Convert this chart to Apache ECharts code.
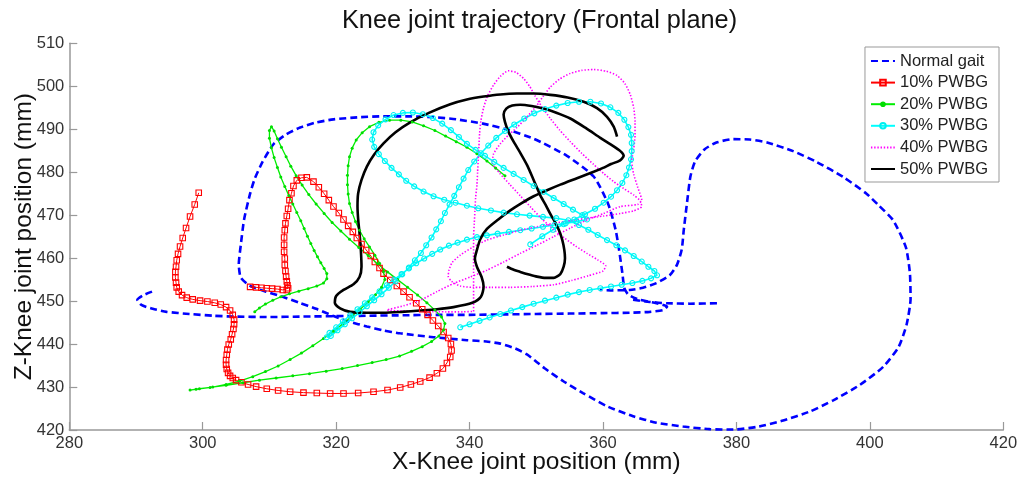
<!DOCTYPE html>
<html>
<head>
<meta charset="utf-8">
<script src="https://cdn.jsdelivr.net/npm/echarts@6/dist/echarts.min.js"></script>
<style>
html,body{margin:0;padding:0;background:#fff;}
#chart{width:1021px;height:479px;}
</style>
</head>
<body>
<div id="chart"></div>
<script>
// ---- axis ticks ----
var xTicks = [280, 300, 320, 340, 360, 380, 400, 420];
var yTicks = [420, 430, 440, 450, 460, 470, 480, 490, 500, 510];

// ---- series names ----
var seriesNames = ['Normal gait', '10% PWBG', '20% PWBG', '30% PWBG', '40% PWBG', '50% PWBG'];

// ---- Normal gait (two visible pieces) ----
var normalGaitMain = [
[292.4,452.2],[291.0,451.3],[290.2,450.3],[290.8,449.1],[292.5,448.2],[294.6,447.5],[298,447.0],[301.5,446.6],[304.6,446.4],[310,446.3],[315,446.4],[320,446.5],[325,446.6],[330,446.7],[335,446.8],[340,446.8],[345,446.9],[350,447.0],[355,447.1],[360,447.2],[364,447.3],[367,447.5],[369,447.9],[369.6,448.7],[368,449.5],[365.5,450.3],[363.8,451.5],[363.2,453],[362.9,456.5],[362.4,462],[361.9,466.5],[360.8,472.5],[358.6,479],[354.6,483.8],[349.6,487.8],[345.5,490],[342,491.3],[338,492.3],[334.6,492.8],[331,493],[327.1,493],[323.5,492.8],[319.6,492.3],[316.8,491.5],[314.6,490.4],[312.5,488.8],[310.6,486.5],[309,482.5],[307.8,478.5],[307.1,475],[306.2,469],[305.7,463],[305.4,458.5],[305.7,455.5],[307,453.6],[309.5,452.2],[312,451],[314.5,449.6],[317,448.2],[319.5,446.6],[322,445.2],[324.6,444.1],[327,443.2],[329.6,442.5],[334.6,441.6],[339.6,440.9],[342.5,440.6],[344.6,440.1],[346.8,439],[348.6,437.6],[350,435.9],[351.3,434.3],[354,431.4],[357,428.6],[360.5,425.6],[364.5,423.2],[368,421.7],[372,420.8],[376,420.2],[379.5,420.1],[383,420.7],[387,422.2],[391,424.3],[394.5,426.9],[398.5,430.5],[402,434.7],[404.3,439.3],[405.5,444.5],[406.1,450.5],[406,456.5],[405.4,462.5],[403.5,468.8],[401.3,472.3],[399.5,475],[396,478.9],[392,482.4],[388.5,484.9],[384.6,486.9],[382,487.6],[379.5,487.7],[377,486.9],[375.2,485.3],[373.8,482.5],[373.1,479],[372.6,473],[372.1,466.5],[371.8,462],[371.1,458.5],[370,456],[368,454.2],[366,453.1],[364,452.6],[361.5,452.5],[359.5,452.6]
];
var normalGaitStub = [[364.5,450.3],[367,449.8],[369.6,449.5],[373,449.4],[377.3,449.5]];

// ---- 10% PWBG ----
var pwbg10 = [
[299.4,475.2],[298.8,472.5],[298.1,469.7],[297.5,467],[297.0,464.7],[296.6,462.7],[296.3,461],[296.1,459.5],[296.0,458],[295.9,456.8],[295.9,455.5],[296.0,454.3],[296.1,453.2],[296.4,452.2],[296.9,451.4],[297.6,450.8],[298.5,450.4],[299.6,450.1],[300.7,449.9],[301.8,449.6],[302.7,449.2],[303.5,448.6],[304.1,447.8],[304.5,446.8],[304.7,445.7],[304.7,444.6],[304.6,443.5],[304.4,442.3],[304.2,441.1],[303.9,439.9],[303.7,438.7],[303.6,437.5],[303.5,436.3],[303.5,435.2],[303.6,434.2],[303.8,433.3],[304.1,432.6],[304.5,432.1],[305.0,431.6],[305.8,431.1],[306.8,430.6],[308.0,430.1],[309.6,429.6],[311.3,429.2],[313.1,428.9],[315.1,428.7],[317.1,428.6],[319.1,428.5],[321.1,428.5],[323.3,428.6],[325.6,428.9],[327.7,429.3],[329.6,429.9],[331.2,430.6],[332.6,431.3],[334.0,432.2],[335.1,433.2],[336.0,434.3],[336.6,435.6],[337.1,437.0],[337.3,438.5],[337.2,440.0],[336.8,441.4],[336.1,442.8],[335.3,444.2],[334.5,445.5],[333.7,446.8],[332.9,448.1],[332.0,449.5],[331.0,450.9],[330.1,452.2],[329.1,453.5],[328.1,454.9],[327.1,456.4],[326.5,457.7],[325.8,459.1],[325.2,460.5],[324.5,461.9],[323.8,463.3],[323.1,464.7],[322.5,466.1],[321.8,467.5],[321.1,469],[320.4,470.5],[319.6,472],[318.9,473.5],[318.2,475],[317.4,476.5],[316.6,477.8],[315.6,478.8],[314.8,478.7],[314.1,478.1],[313.6,476.8],[313.3,475.1],[313.0,473.5],[312.8,471.5],[312.6,469.8],[312.4,468.1],[312.3,466.5],[312.2,464.8],[312.2,463.1],[312.2,461.5],[312.3,459.9],[312.3,458.4],[312.4,457],[312.5,455.7],[312.6,454.6],[312.7,453.7],[312.8,453.0],[312.6,452.6],[312.0,452.6],[311.2,452.8],[310.4,452.9],[309.6,453.0],[308.8,453.1],[308.0,453.2],[307.1,453.3]
];

// ---- 20% PWBG ----
var pwbg20 = [
[307.8,447.5],[308.5,448.4],[309.4,449.3],[310.5,450.2],[311.7,451],[313,451.7],[314.4,452.3],[315.8,452.9],[317.1,453.5],[318.1,454.2],[318.6,455.2],[318.6,456.4],[318.2,457.6],[317.7,458.9],[317.2,460.3],[316.7,461.8],[316.2,463.4],[315.7,465.1],[315.2,466.9],[314.7,468.7],[314.1,470.6],[313.5,472.6],[312.9,474.6],[312.3,476.7],[311.7,478.9],[311.2,481.1],[310.7,483.4],[310.3,485.7],[310.0,487.9],[310.0,489.7],[310.3,490.6],[310.7,489.6],[311.2,487.8],[311.8,485.8],[312.5,483.6],[313.2,481.4],[314.0,479.2],[314.9,477.0],[315.9,474.8],[317.0,472.6],[318.2,470.4],[319.4,468.3],[320.7,466.3],[322.0,464.4],[323.4,462.5],[324.8,460.6],[326.2,458.7],[327.7,456.8],[329.2,455.0],[330.7,453.2],[332.2,451.4],[333.6,449.6],[334.8,447.9],[335.8,446.3],[336.3,444.8],[336.1,443.3],[335.4,441.9],[334.3,440.6],[332.9,439.4],[331.3,438.3],[329.5,437.2],[327.5,436.4],[325.4,435.7],[323.2,435.0],[320.9,434.3],[318.5,433.7],[316.0,433.1],[313.5,432.6],[311.0,432.1],[308.5,431.6],[306.0,431.0],[303.5,430.4],[301.1,429.9],[299.0,429.5],[298.1,429.3],[299.5,429.6],[301.5,430.0],[303.5,430.6],[305.5,431.4],[307.5,432.4],[309.4,433.6],[311.3,434.9],[313.1,436.4],[314.8,437.9],[316.5,439.6],[318.1,441.3],[319.6,443.0],[321.0,444.7],[322.3,446.4],[323.6,448.1],[324.8,449.8],[325.9,451.5],[326.8,453.2],[327.3,455.0],[327.1,456.9],[326.5,458.8],[325.8,460.7],[325.0,462.6],[324.2,464.5],[323.5,466.5],[322.9,468.5],[322.4,470.6],[322.0,472.7],[321.8,474.9],[321.7,477.1],[321.7,479.3],[321.8,481.5],[322.0,483.6],[322.4,485.6],[323.0,487.5],[323.9,489.2],[325.0,490.6],[326.4,491.6],[328.0,492.1],[329.7,492.1],[331.4,491.7],[333.1,490.8],[334.8,489.7],[336.4,488.4],[338.0,487.1],[339.6,485.8],[341.1,484.3],[342.6,482.6],[343.9,481.0],[345.3,479.2]
];

// ---- 30% PWBG ----
var pwbg30 = [
[338.6,443.9],[340.0,444.6],[341.5,445.4],[343.0,446.2],[344.6,447.0],[346.2,447.8],[347.9,448.6],[349.6,449.4],[351.3,450.1],[353.0,450.8],[354.7,451.5],[356.4,452.1],[358.0,452.6],[359.6,453.0],[361.2,453.4],[362.8,453.8],[364.4,454.2],[365.9,454.7],[367.2,455.3],[368.1,456.0],[367.7,457.0],[366.8,458.0],[365.8,459.2],[364.6,460.5],[363.3,461.8],[362.0,463.0],[360.6,464.2],[359.2,465.4],[357.8,466.6],[356.4,467.7],[354.8,468.8],
[353.0,469.3],[351.0,469.6],[349.0,469.9],[347.1,470.2],[345.1,470.6],[343.2,471.1],[341.3,471.6],[339.6,472.2],[337.9,472.9],[336.2,473.6],[334.6,474.4],[333.1,475.5],[331.7,476.7],[330.5,478.0],[329.4,479.5],[328.3,481.0],[327.3,482.6],[326.4,484.2],[325.7,485.9],[325.4,487.6],[325.6,489.3],[326.3,490.9],[327.4,492.3],[328.6,493.3],[330.0,493.8],[331.5,493.9],[333.0,493.5],[334.5,492.6],[335.9,491.3],[337.2,489.8],[338.4,488.2],[339.6,486.6],[340.9,485.2],[342.3,483.8],[343.7,482.4],[345.1,481.0],[346.6,479.6],[348.1,478.2],[349.6,476.8],[351.1,475.4],[352.6,474.0],[354.1,472.6],[355.5,471.3],[356.9,470.0],[357.6,469.0],
[356.0,468.5],[354.4,468.1],[352.7,467.7],[351.0,467.3],[349.3,466.9],[347.6,466.5],[345.9,466.1],[344.2,465.7],[342.6,465.3],[341.1,464.9],[339.6,464.3],[338.2,463.6],[336.9,462.9],[335.6,462.0],[334.4,461.0],[333.2,459.9],[332.0,458.8],[330.9,457.6],[329.8,456.3],[328.7,455.0],[327.6,453.7],[326.5,452.3],[325.4,450.9],[324.3,449.5],[323.2,448.1],[322.1,446.7],[321.0,445.3],[320.0,443.9],[319.0,442.6],[318.6,441.6],[319.2,441.9],[320.2,443.2],[321.3,444.6],[322.4,446.0],[323.5,447.4],[324.6,448.8],[325.7,450.2],[326.8,451.6],[327.9,453.1],[328.9,454.6],[329.9,456.2],[330.9,457.8],[331.8,459.5],[332.7,461.2],[333.5,463.0],[334.3,464.8],[335.0,466.7],[335.7,468.6],[336.3,470.5],[337.0,472.5],[337.7,474.5],[338.4,476.5],[339.1,478.5],[339.8,480.5],[340.7,482.5],[341.7,484.4],[342.8,486.2],[344.0,488.0],[345.3,489.6],[346.7,491.1],[348.2,492.5],[349.7,493.7],[351.3,494.7],[353.0,495.5],[354.7,496.1],[356.4,496.4],[358.1,496.4],[359.7,496.0],[361.1,495.1],[362.3,493.8],[363.2,492.2],[363.8,490.5],[364.2,488.7],[364.3,486.8],[364.3,484.9],[364.2,483.0],[363.9,481.1],[363.5,479.3],[362.9,477.5],[362.1,475.8],[361.2,474.3],[360.1,472.9],[358.8,471.5],[357.3,470.2],[355.7,469.0],[354.1,467.9],[352.5,466.6],[350.9,465.1],[349.1,463.2]
];

// ---- 40% PWBG ----
var pwbg40 = [
[340.6,447.6],[340.6,450],[340.6,453],[340.6,456],[340.6,459],[340.6,462],[340.6,465],[340.7,468],[340.8,471],[340.9,474],[341.1,477],[341.2,480],[341.3,483],[341.4,486],[341.5,489],[341.7,492],[342.1,495],[342.7,497.8],[343.6,500.3],[344.6,502.3],[345.8,503.6],[347.0,503.2],[348.1,501.8],[349.0,500],[349.8,497.8],[350.8,495.3],[352.1,492.5],[353.5,489.8],[355.1,487.1],[356.8,484.4],[358.6,481.8],[360.1,479.7],[361.6,477.8],[363.1,476.2],[364.6,474.7],[365.6,473.3],[365.8,472.0],[364.6,471.0],[362.6,470.4],[360.1,469.8],[357.6,469.3],[355.1,468.7],[352.6,468.1],[350.1,467.3],[347.6,466.5],[345.1,465.4],[342.6,464.2],[340.4,462.5],[338.6,460.7],[337.4,459.0],[336.9,457.2],[336.8,455.8],[337.3,454.6],[338.6,453.5],[340.5,453.2],[343.3,453.2],[346.1,453.2],[349.4,453.4],[352.6,453.8],[355.3,454.8],[357.8,455.9],[360.0,457.0],[360.4,458.2],[359.2,459.6],[357.6,461.1],[355.9,462.8],[354.2,464.7],[352.5,466.8],[350.8,469.2],[349.2,471.8],[347.6,474.5],[346.0,477.2],[344.5,479.8],[343.4,482.2],[343.6,484.3],[344.6,486.6],[345.8,488.6],[347.1,490.4],[348.5,492.7],[350.1,495.6],[351.0,497.6],[352.1,499.8],[353.5,501.7],[355.1,503.0],[356.8,503.7],[358.6,503.9],[360.5,503.5],[362.1,502.5],[363.3,500.6],[364.1,498.0],[364.6,495.0],[364.8,491.7],[364.8,488.5],[364.6,485.5],[364.3,482.5],[364.6,479.5],[365.2,476.5],[365.8,473.5],[365.2,472.5],[362.6,472.0],[360.1,470.4],[357.6,468.9],[355.1,467.0],[352.6,465.0],[350.1,463.0],[347.6,461.1],[345.1,459.1],[342.6,457.2],[340.1,455.6],[337.6,454.1],[335.1,452.2],[332.6,450.2],[330.1,448.9],[327.6,447.9],[330.5,447.7],[333.5,447.6],[336.5,447.5],[339,447.5],[340.6,447.6]
];

// ---- 50% PWBG ----
var pwbg50 = [
[345.6,458.0],[346.6,457.3],[347.6,456.8],[348.9,456.2],[350.1,455.7],[351.4,455.4],[352.6,455.4],[353.6,456.3],[354.1,458.0],[354.3,460.0],[354.2,461.9],[353.9,464.2],[353.4,466.5],[352.8,468.4],[352.1,470.3],[351.4,472.4],[350.6,474.6],[349.6,478.2],[348.6,481.7],[347.6,484.5],[346.6,487.1],[345.8,489.5],[345.3,491.7],[345.1,493.4],[345.5,494.8],[346.4,495.5],[347.6,495.7],[349.3,495.4],[351.1,494.8],[353.1,493.8],[355.1,492.5],[357.4,490.3],[359.6,488.0],[361.2,486.4],[362.6,484.9],[363.1,483.8],[362.5,482.7],[361.2,481.9],[360.0,481.0],[358.6,480.1],[356.1,478.6],[353.6,477.1],[351.6,475.8],[349.6,474.4],[347.8,472.8],[346.1,471.1],[344.3,469.0],[342.6,466.8],[341.6,464.4],[341.1,461.9],[340.8,459.9],[341.1,458.0],[341.8,455.6],[342.1,453.4],[341.7,451.0],[340.4,449.6],[337.6,448.6],[335.1,448.1],[332.6,447.8],[329.8,447.5],[327.1,447.3],[324.6,447.3],[322.1,447.5],[320.6,448.3],[319.8,449.6],[320.0,451.2],[321.1,452.6],[322.6,453.9],[323.5,455.6],[323.8,458.0],[323.7,461.9],[323.5,465.8],[323.3,469.0],[323.2,472.0],[323.3,475.1],[323.8,478.2],[324.6,481.3],[325.7,484.1],[327.1,486.7],[328.9,489.3],[331.1,491.6],[333.9,493.8],[337.1,495.8],[339.6,496.9],[342.1,497.6],[344.6,498.1],[347.1,498.3],[349.6,498.3],[352.1,498.0],[354.7,497.4],[357.1,496.4],[359.1,494.9],[360.6,492.9],[361.6,490.6],[362.1,488.3]
];

var FONT = '"Liberation Sans", Arial, Helvetica, sans-serif';
var chart = echarts.init(document.getElementById('chart'), null, {renderer: 'canvas'});

var blueStyle = {color: '#0000ff', width: 2.6, type: [7, 4]};
var hiddenMark = {opacity: 0};

var option = {
  animation: false,
  backgroundColor: '#ffffff',
  title: {
    text: 'Knee joint trajectory (Frontal plane)',
    left: 342, top: 9, padding: 0,
    textStyle: {fontFamily: FONT, fontSize: 25.3, fontWeight: 'normal', color: '#111'}
  },
  legend: {
    data: [
      {name: seriesNames[0], itemStyle: hiddenMark},
      {name: seriesNames[1]},
      {name: seriesNames[2]},
      {name: seriesNames[3]},
      {name: seriesNames[4], itemStyle: hiddenMark},
      {name: seriesNames[5], itemStyle: hiddenMark}
    ],
    orient: 'vertical',
    right: 22, top: 47,
    padding: [5, 11, 4, 5],
    itemWidth: 24, itemHeight: 7, itemGap: 3.6,
    backgroundColor: '#ffffff',
    borderColor: '#999', borderWidth: 1, borderRadius: 0,
    textStyle: {fontFamily: FONT, fontSize: 16.5, color: '#222', lineHeight: 18}
  },
  grid: {left: 69.3, right: 17.7, top: 43.3, bottom: 49, containLabel: false, outerBoundsMode: 'none'},
  xAxis: {
    type: 'value', min: xTicks[0], max: xTicks[xTicks.length - 1], interval: 20,
    name: 'X-Knee joint position (mm)', nameLocation: 'middle', nameGap: 20, nameMoveOverlap: false,
    nameTextStyle: {fontFamily: FONT, fontSize: 24.5, color: '#111'},
    axisLine: {lineStyle: {color: '#999', width: 1.5}},
    axisTick: {inside: true, length: 8, lineStyle: {color: '#999', width: 1.2}},
    axisLabel: {fontFamily: FONT, fontSize: 16.5, color: '#333', margin: 5},
    splitLine: {show: false}
  },
  yAxis: {
    type: 'value', min: yTicks[0], max: yTicks[yTicks.length - 1], interval: 10,
    name: 'Z-Knee joint position (mm)', nameLocation: 'middle', nameGap: 33, nameMoveOverlap: false,
    nameTextStyle: {fontFamily: FONT, fontSize: 24.5, color: '#111'},
    axisLine: {show: true, lineStyle: {color: '#999', width: 1.5}},
    axisTick: {show: true, inside: true, length: 8, lineStyle: {color: '#999', width: 1.2}},
    axisLabel: {fontFamily: FONT, fontSize: 16.5, color: '#333', margin: 5},
    splitLine: {show: false}
  },
  series: [
    {name: seriesNames[0], type: 'line', data: normalGaitMain, symbol: 'none', smooth: 0.2,
     lineStyle: blueStyle, itemStyle: {color: '#0000ff'}},
    {name: seriesNames[0], type: 'line', data: normalGaitStub, symbol: 'none', smooth: 0.2,
     lineStyle: blueStyle, itemStyle: {color: '#0000ff'}},
    {name: seriesNames[1], type: 'line', data: pwbg10, symbol: 'rect', symbolSize: 5.5, showAllSymbol: true,
     lineStyle: {color: '#ff0000', width: 1},
     itemStyle: {color: 'rgba(255,255,255,0)', borderColor: '#ff0000', borderWidth: 1.1}},
    {name: seriesNames[2], type: 'line', data: pwbg20, symbol: 'circle', symbolSize: 3, showAllSymbol: true,
     lineStyle: {color: '#00ee00', width: 1.3},
     itemStyle: {color: '#00dd00'}},
    {name: seriesNames[3], type: 'line', data: pwbg30, symbol: 'circle', symbolSize: 5, showAllSymbol: true,
     lineStyle: {color: '#00ffff', width: 1.6},
     itemStyle: {color: 'rgba(255,255,255,0)', borderColor: '#00f0f0', borderWidth: 1.1}},
    {name: seriesNames[4], type: 'line', data: pwbg40, symbol: 'none', smooth: 0.2,
     lineStyle: {color: '#ff00ff', width: 1.6, type: [1.4, 1.8]}, itemStyle: {color: '#ff00ff'}},
    {name: seriesNames[5], type: 'line', data: pwbg50, symbol: 'none', smooth: 0.25,
     lineStyle: {color: '#000000', width: 2.6}, itemStyle: {color: '#000000'}}
  ]
};
chart.setOption(option);
</script>
</body>
</html>
